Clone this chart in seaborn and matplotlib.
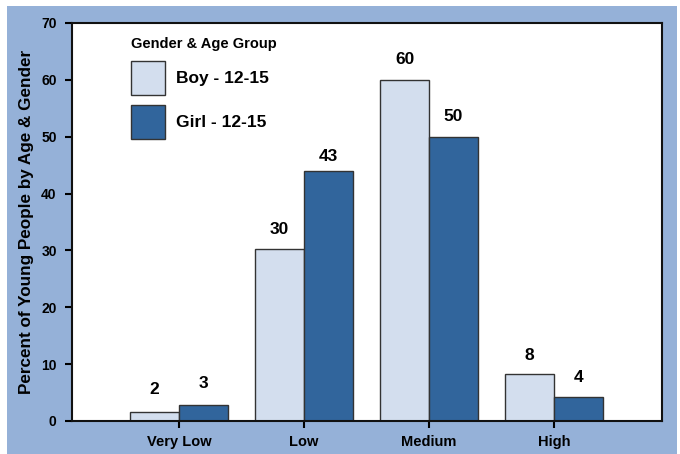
import seaborn as sns
import matplotlib.pyplot as plt
import pandas as pd
from matplotlib.patches import Rectangle

# values
levels = ["Very Low", "Low", "Medium", "High"]
boy = [1.5, 30.2, 60.0, 8.2]
girl = [2.9, 44.0, 50.0, 4.3]
boy_labels = ["2", "30", "60", "8"]
girl_labels = ["3", "43", "50", "4"]
groups = ["Boy - 12-15", "Girl - 12-15"]
yticks = [0, 10, 20, 30, 40, 50, 60, 70]

sns.set_style("ticks")
plt.rcParams["font.family"] = ["Liberation Sans", "DejaVu Sans"]
plt.rcParams["font.weight"] = "bold"
for k in ["text.color", "axes.labelcolor", "xtick.color", "ytick.color"]:
    plt.rcParams[k] = "black"

df = pd.DataFrame({
    "level": levels * 2,
    "pct": boy + girl,
    "group": [groups[0]] * 4 + [groups[1]] * 4,
})

fig = plt.figure(figsize=(6.8, 4.54), dpi=100, facecolor="white")
fig.patches.append(Rectangle((7 / 680, 0), 670 / 680, 448 / 454,
                             transform=fig.transFigure, facecolor="#95B1D8",
                             edgecolor="none", zorder=-1))
ax = fig.add_axes([72 / 680, 33 / 454, 590 / 680, 398 / 454])

sns.barplot(data=df, x="level", y="pct", hue="group", order=levels,
            hue_order=groups, palette=["#D3DEEE", "#31659C"], width=0.78,
            edgecolor="#333333", linewidth=1, saturation=1, ax=ax)

# bar value labels
offset = 0.195
for i in range(len(levels)):
    ax.text(i - offset, int(boy_labels[i]) + 3.6, boy_labels[i], ha="center",
            va="center", fontsize=12.5, fontweight="bold")
    ax.text(i + offset, int(girl_labels[i]) + 3.6, girl_labels[i], ha="center",
            va="center", fontsize=12.5, fontweight="bold")

ax.set_ylim(0, 70)
ax.set_xlim(-0.856, 3.864)
ax.set_yticks(yticks)
ax.set_xlabel("")
ax.set_ylabel("Percent of Young People by Age & Gender", fontsize=12.3,
              fontweight="bold", labelpad=5)
ax.tick_params(axis="y", length=5, width=1.5, pad=6, labelsize=10)
ax.tick_params(axis="x", length=5, width=1.5, pad=5, labelsize=10.5)
for lab in ax.get_xticklabels() + ax.get_yticklabels():
    lab.set_fontweight("bold")
for s in ax.spines.values():
    s.set_visible(True)
    s.set_linewidth(1.5)
    s.set_color("#111111")
ax.set_facecolor("white")

leg = ax.legend(title="Gender & Age Group", loc="upper left",
                bbox_to_anchor=(0.073, 1.004), frameon=False, fontsize=12.5,
                title_fontproperties={"weight": "bold", "size": 10.5},
                handlelength=1.95, handleheight=2.63, labelspacing=0.57,
                handletextpad=0.65, alignment="left")
for t in leg.get_texts():
    t.set_fontweight("bold")

fig.savefig("out.png", dpi=100, facecolor=fig.get_facecolor())
